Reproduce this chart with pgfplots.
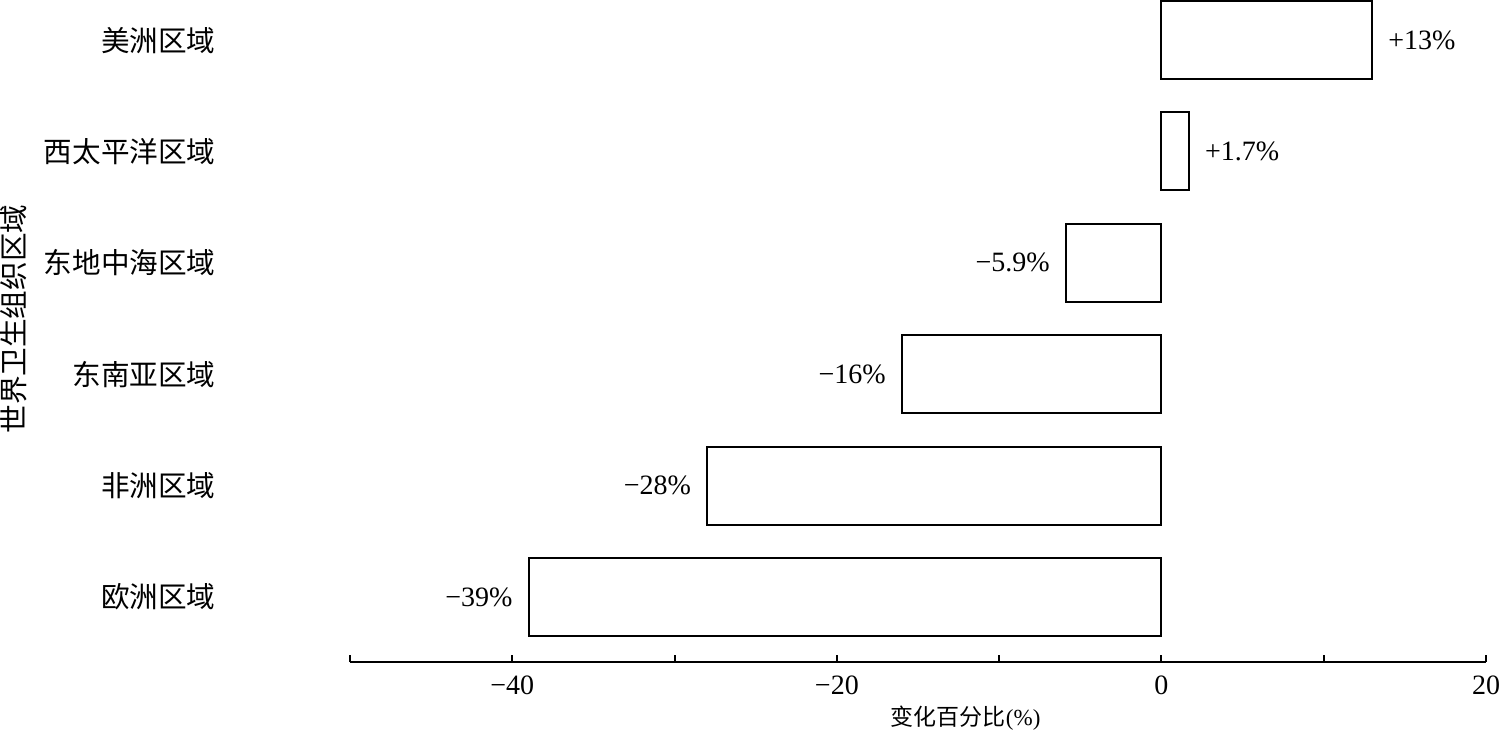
\documentclass[border=0pt]{standalone}
\usepackage{fontspec}
\setmainfont{Liberation Serif}
\newfontfamily\cjk{Noto Sans CJK SC}
\usepackage{pgfplots}
\pgfplotsset{compat=1.18}
\begin{document}
\begin{tikzpicture}
\begin{axis}[
  name=ax, scale only axis, width=568bp, height=331bp,
  xmin=-50, xmax=20, ymin=-0.583, ymax=5.36,
  clip=false,
  axis x line=bottom, axis y line=left,
  axis line style={-, line width=1bp, black},
  y axis line style={draw=none},
  xtick={-40,-20,0,20}, xticklabels={−40,−20,0,20},
  minor xtick={-50,-30,-10,10},
  tick align=inside,
  major tick length=3.5bp, minor tick length=3.5bp,
  xtick style={line width=1bp, black},
  minor x tick style={line width=1bp, black},
  ytick={0,1,2,3,4,5},
  yticklabels={欧洲区域,非洲区域,东南亚区域,东地中海区域,西太平洋区域,美洲区域},
  ytick style={draw=none},
  xticklabel style={font=\fontsize{14bp}{16bp}\selectfont, inner sep=0pt, anchor=north, yshift=-6.5bp},
  yticklabel style={font=\fontsize{14.3bp}{16bp}\selectfont\cjk, inner sep=0pt, anchor=east, xshift=-63.5bp},
  xlabel={{\cjk 变化百分比}(\%)},
  xlabel style={font=\fontsize{11.5bp}{13bp}\selectfont, at={(rel axis cs:0.542,0)}, anchor=center, yshift=-28bp, inner sep=0pt},
  ylabel={世界卫生组织区域},
  ylabel style={font=\fontsize{14.3bp}{16bp}\selectfont\cjk, at={(rel axis cs:0,0.518)}, anchor=center, yshift=168bp, inner sep=0pt},
  xbar, bar width=0.7, bar shift=0pt,
  point meta=explicit symbolic,
  nodes near coords,
  every node near coord/.append style={font=\fontsize{14bp}{16bp}\selectfont, inner sep=0pt, text=black},
]
\addplot[draw=black, fill=white, line width=1bp,
  every node near coord/.append style={anchor=west, xshift=7.5bp}]
  coordinates {(13,5) [+13\%] (1.7,4) [+1.7\%]};
\addplot[draw=black, fill=white, line width=1bp,
  every node near coord/.append style={anchor=east, xshift=-7.5bp}]
  coordinates {(-5.9,3) [−5.9\%] (-16,2) [−16\%] (-28,1) [−28\%] (-39,0) [−39\%]};
\end{axis}
\pgfresetboundingbox
\path ([xshift=-175bp, yshift=-35bp]ax.south west) rectangle ([xshift=7bp]ax.north east);
\end{tikzpicture}
\end{document}
